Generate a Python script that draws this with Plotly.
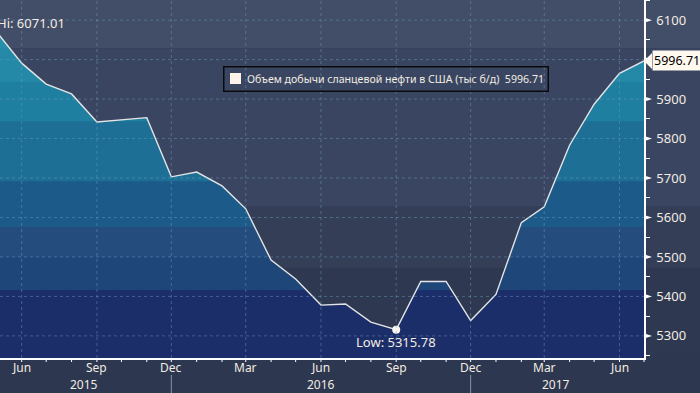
import numpy as np
import pandas as pd
import plotly.graph_objects as go

# ---------------- data ----------------
months = pd.date_range("2015-05-01", "2017-07-01", freq="MS")
values = [6071.01, 5991, 5938, 5913, 5842, 5847, 5853, 5703,
          5715, 5680, 5622, 5492, 5444, 5378, 5381, 5335, 5315.78, 5438, 5438, 5339,
          5405, 5587, 5627, 5783, 5887, 5965, 5996.71]
series_name = "Объем добычи сланцевой нефти в США (тыс б/д)"
y_ticks = [5300, 5400, 5500, 5600, 5700, 5800, 5900, 6000, 6100]
year_labels = ["2015", "2016", "2017"]
month_abbr = {3: "Mar", 6: "Jun", 9: "Sep", 12: "Dec"}

# ---------------- style ----------------
X_RANGE = [pd.Timestamp("2015-05-05 12:00"), pd.Timestamp("2017-07-01")]
Y_RANGE = [5244, 6151]
fill_levels = [None, 6029, 5943, 5844, 5692, 5576, 5500, 5416]
fill_colors = ["#2790ad", "#2389a7", "#1f7fa0", "#1d6f95", "#1c5b89",
               "#244d7d", "#1f4679", "#1c2e69"]
bg_levels = [6029, 5627, 5472]
bg_colors = ["#424d67", "#3a4661", "#343e57", "#2e3951"]
TXT = "#f2ece2"
FONT = "Noto Sans"

W, H = 700, 393
ML, MR, MT, MB = 0, 56, 0, 35
PW, PH = W - ML - MR, H - MT - MB


def yfrac(v):
    return (v - Y_RANGE[0]) / (Y_RANGE[1] - Y_RANGE[0])


def xfrac(d):
    d = pd.Timestamp(d)
    return (d - X_RANGE[0]) / (X_RANGE[1] - X_RANGE[0])


xnum = months.astype("int64").to_numpy().astype(float)
yv = np.array(values, dtype=float)


def clipped(level):
    if level is None:
        return list(months), list(yv)
    ox, oy = [], []
    for i in range(len(xnum)):
        if i > 0:
            y0, y1 = yv[i - 1], yv[i]
            if (y0 - level) * (y1 - level) < 0:
                t = (level - y0) / (y1 - y0)
                ox.append(xnum[i - 1] + t * (xnum[i] - xnum[i - 1]))
                oy.append(level)
        ox.append(xnum[i])
        oy.append(min(yv[i], level))
    return list(pd.to_datetime(np.array(ox).astype("int64"))), oy


fig = go.Figure()

for lvl, col in zip(fill_levels, fill_colors):
    cx, cy = clipped(lvl)
    fig.add_trace(go.Scatter(x=cx, y=cy, mode="lines", fill="tozeroy",
                             fillcolor=col, line=dict(width=0, color=col),
                             hoverinfo="skip", showlegend=False))

fig.add_trace(go.Scatter(x=months, y=values, mode="lines", name=series_name,
                         line=dict(color="#e4e4e4", width=1.4), showlegend=False))

imin = int(np.argmin(yv))
imax = int(np.argmax(yv))
fig.add_trace(go.Scatter(x=[months[imin]], y=[values[imin]], mode="markers",
                         marker=dict(color="#fbf6ee", size=8), showlegend=False,
                         cliponaxis=False))

shapes = []
# background bands (plot + right margin)
edges = [1.0] + [yfrac(v) for v in bg_levels] + [0.0]
for i, col in enumerate(bg_colors):
    shapes.append(dict(type="rect", xref="paper", yref="paper", x0=0, x1=W / PW,
                       y0=edges[i + 1], y1=edges[i], fillcolor=col, line=dict(width=0),
                       layer="below"))
# grid lines
grid = dict(color="rgba(110,160,195,0.45)", width=1, dash="3px,3px")
for v in y_ticks:
    shapes.append(dict(type="line", xref="paper", yref="y", x0=0, x1=1, y0=v, y1=v,
                       line=grid, layer="above"))
for d in months:
    if d.month in month_abbr:
        shapes.append(dict(type="line", xref="x", yref="paper", x0=d, x1=d, y0=0, y1=1,
                           line=grid, layer="above"))
# right-axis triangle markers
tw, th = 8 / PW, 2.6 / PH
for v in y_ticks:
    yf = yfrac(v)
    shapes.append(dict(type="path", xref="paper", yref="paper",
                       path=f"M 1 {yf - th} L {1 + tw} {yf} L 1 {yf + th} Z",
                       fillcolor="#ffffff", line=dict(width=0), layer="above"))
# month tick marks on x axis
for d in months:
    xf = xfrac(d)
    if 0 <= xf <= 1:
        shapes.append(dict(type="line", xref="paper", yref="paper", x0=xf, x1=xf,
                           y0=0, y1=-4 / PH, line=dict(color="#ffffff", width=1)))
# year separators
for d in months:
    if d.month == 12:
        xf = xfrac(d)
        shapes.append(dict(type="line", xref="paper", yref="paper", x0=xf, x1=xf,
                           y0=-17 / PH, y1=-35 / PH, line=dict(color="#8a93a3", width=1)))
# last value pointer
yl = yfrac(values[-1])
shapes.append(dict(type="path", xref="paper", yref="paper",
                   path=f"M 1 {yl} L {1 + 8 / PW} {yl + 8 / PH} L {1 + 8 / PW} {yl - 8 / PH} Z",
                   fillcolor="#fff8ee", line=dict(width=0), layer="above"))
# legend swatch
shapes.append(dict(type="rect", xref="paper", yref="paper",
                   x0=230 / PW, x1=241 / PW, y0=1 - 84 / PH, y1=1 - 73 / PH,
                   fillcolor="#fdf3ea", line=dict(width=0), layer="above"))

ann = []
ann.append(dict(xref="paper", yref="y", x=1, xshift=8, y=values[-1], xanchor="left",
                yanchor="middle", showarrow=False, text=f"{values[-1]:.2f}",
                font=dict(family=FONT, size=12.5, color="#000000"),
                bgcolor="#fff8ee", borderpad=1))
ann.append(dict(xref="paper", yref="paper", x=0, xshift=-5, y=1, yshift=-12,
                xanchor="left", yanchor="top", showarrow=False,
                text=f"Hi: {values[imax]:.2f}", font=dict(family=FONT, size=13, color=TXT)))
ann.append(dict(xref="x", yref="y", x=months[imin], y=values[imin], yshift=-1,
                xanchor="center", yanchor="top", showarrow=False,
                text=f"Low: {values[imin]:.2f}", font=dict(family=FONT, size=13, color=TXT)))
# legend box + text
ann.append(dict(xref="paper", yref="paper", x=386 / PW, y=1 - 79 / PH,
                xanchor="center", yanchor="middle", showarrow=False, text=" ",
                width=323, height=23, borderpad=0,
                bordercolor="#0a0a0a", borderwidth=1.5))
ann.append(dict(xref="paper", yref="paper", x=245 / PW, y=1 - 79 / PH,
                xanchor="left", yanchor="middle", showarrow=False,
                text=f"{series_name}  {values[-1]:.2f}",
                font=dict(family=FONT, size=10.6, color=TXT)))
# month labels
for d in months:
    if d.month in month_abbr:
        ann.append(dict(xref="x", yref="paper", x=d, y=-9.5 / PH, xanchor="center",
                        yanchor="middle", showarrow=False, text=month_abbr[d.month],
                        font=dict(family=FONT, size=12, color=TXT)))
year_pos = ["2015-08-16", "2016-06-01", "2017-03-16"]
for lab, pos in zip(year_labels, year_pos):
    ann.append(dict(xref="paper", yref="paper", x=xfrac(pos), y=-26 / PH,
                    xanchor="center", yanchor="middle", showarrow=False, text=lab,
                    font=dict(family=FONT, size=12, color=TXT)))

# the 6000 label is hidden behind the last-value tag in the original
y_ticktext = ["" if abs(v - values[-1]) < 20 else str(v) for v in y_ticks]

fig.update_layout(
    width=W, height=H, margin=dict(l=ML, r=MR, t=MT, b=MB),
    paper_bgcolor="#2d3750", plot_bgcolor="rgba(0,0,0,0)",
    shapes=shapes, annotations=ann, showlegend=False,
    font=dict(family=FONT, size=12, color=TXT),
    xaxis=dict(range=X_RANGE, showticklabels=False,
               showgrid=False, zeroline=False, showline=True, linecolor="#ffffff",
               linewidth=1.5, ticks=""),
    yaxis=dict(range=Y_RANGE, side="right", tickvals=y_ticks,
               ticktext=y_ticktext,
               showgrid=False, zeroline=False, showline=True, linecolor="#ffffff",
               linewidth=1.5, ticks="outside", ticklen=8, tickcolor="rgba(0,0,0,0)",
               minor=dict(dtick=50, tick0=5250, ticks="outside", ticklen=4,
                          tickcolor="#ffffff", showgrid=False),
               tickfont=dict(family=FONT, size=13, color=TXT)),
)

fig.write_html("out.html", config={"displayModeBar": False},
               post_script="document.body.style.margin='0';document.body.style.padding='0';")
